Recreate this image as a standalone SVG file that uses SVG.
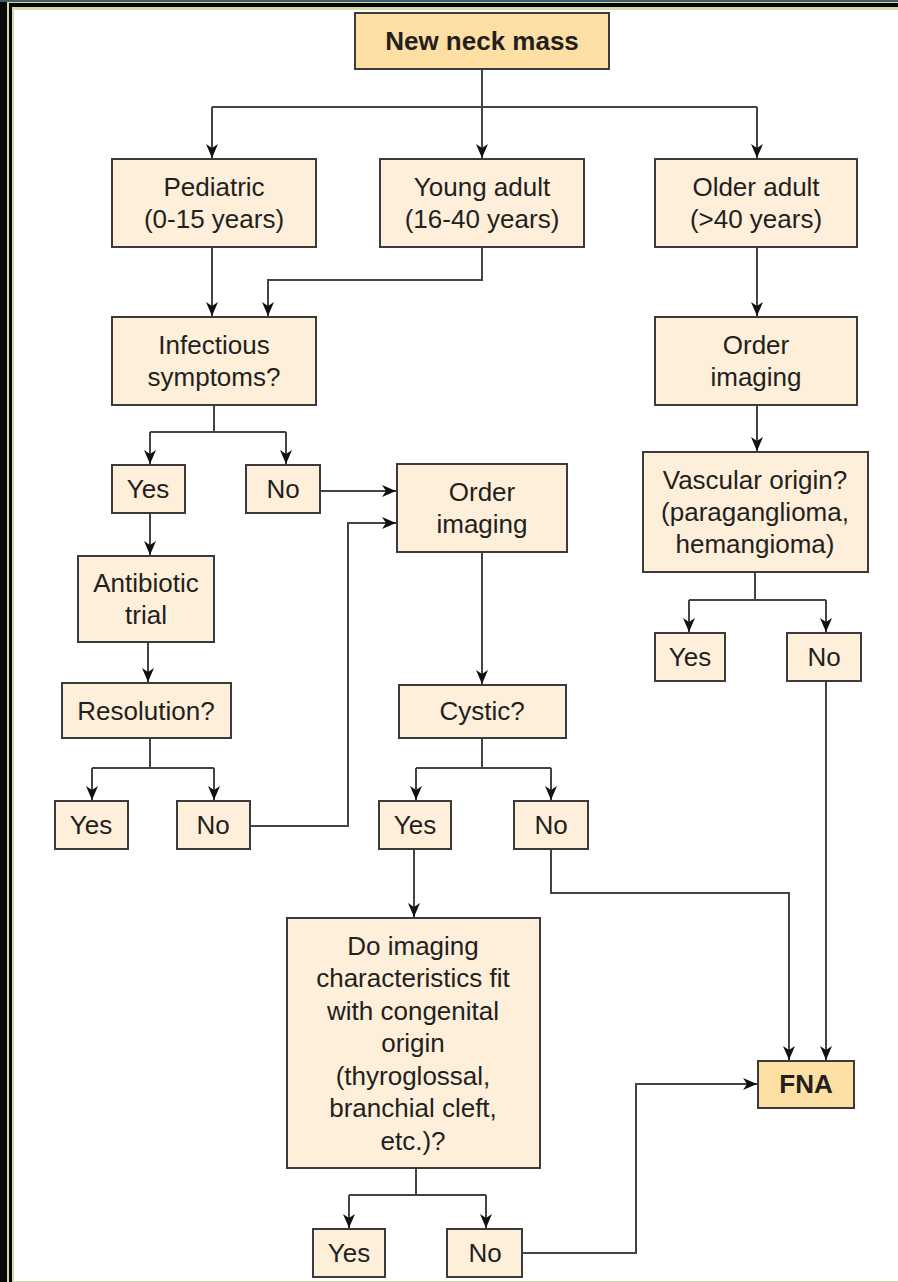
<svg xmlns="http://www.w3.org/2000/svg" width="898" height="1282" viewBox="0 0 898 1282">
<style>
.n{fill:#fdefda;stroke:#3b3b3b;stroke-width:2}
.h{fill:#fddfa4;stroke:#3b3b3b;stroke-width:2}
text{font-family:"Liberation Sans",Arial,sans-serif;font-size:26px;fill:#231f20;text-anchor:middle}
.b{font-weight:bold}
.c{fill:none;stroke:#444;stroke-width:2}
</style>
<defs>
<marker id="a" viewBox="0 0 14 12" markerWidth="14" markerHeight="12" refX="14" refY="6" orient="auto" markerUnits="userSpaceOnUse">
<path d="M0,0 L14,6 L0,12 L4,6 z" fill="#111"/>
</marker>
</defs>
<g id="frame">
<rect x="0" y="0" width="898" height="1282" fill="#080808"/>
<rect x="0" y="0" width="898" height="2" fill="#3d5c63"/>
<rect x="7" y="2" width="891" height="1280" fill="#cfdcaa"/>
<rect x="9" y="3" width="889" height="1279" fill="#050505"/>
<rect x="12" y="7" width="886" height="1275" fill="#cfdcaa"/>
<rect x="14" y="10" width="884" height="1271" fill="#fff"/>
</g>
<g id="connectors">
<path class="c" d="M482,69 V107"/>
<path class="c" d="M212,107 H757"/>
<path class="c" d="M212,107 V158" marker-end="url(#a)"/>
<path class="c" d="M482,107 V158" marker-end="url(#a)"/>
<path class="c" d="M757,107 V158" marker-end="url(#a)"/>
<path class="c" d="M212,247 V316" marker-end="url(#a)"/>
<path class="c" d="M482,247 V280 H268 V316" marker-end="url(#a)"/>
<path class="c" d="M757,247 V316" marker-end="url(#a)"/>
<path class="c" d="M757,405 V451" marker-end="url(#a)"/>
<path class="c" d="M755,572 V600"/>
<path class="c" d="M689,600 H826"/>
<path class="c" d="M689,600 V632" marker-end="url(#a)"/>
<path class="c" d="M826,600 V632" marker-end="url(#a)"/>
<path class="c" d="M826,681 V1060" marker-end="url(#a)"/>
<path class="c" d="M214,405 V432"/>
<path class="c" d="M150,432 H286"/>
<path class="c" d="M150,432 V464" marker-end="url(#a)"/>
<path class="c" d="M286,432 V464" marker-end="url(#a)"/>
<path class="c" d="M320,491 H396" marker-end="url(#a)"/>
<path class="c" d="M150,513 V555" marker-end="url(#a)"/>
<path class="c" d="M148,642 V682" marker-end="url(#a)"/>
<path class="c" d="M150,738 V768"/>
<path class="c" d="M92,768 H214"/>
<path class="c" d="M92,768 V800" marker-end="url(#a)"/>
<path class="c" d="M214,768 V800" marker-end="url(#a)"/>
<path class="c" d="M250,826 H348 V523 H396" marker-end="url(#a)"/>
<path class="c" d="M482,552 V684" marker-end="url(#a)"/>
<path class="c" d="M482,738 V768"/>
<path class="c" d="M416,768 H551"/>
<path class="c" d="M416,768 V800" marker-end="url(#a)"/>
<path class="c" d="M551,768 V800" marker-end="url(#a)"/>
<path class="c" d="M551,849 V893 H789 V1060" marker-end="url(#a)"/>
<path class="c" d="M414,849 V917" marker-end="url(#a)"/>
<path class="c" d="M416,1168 V1195"/>
<path class="c" d="M349,1195 H486"/>
<path class="c" d="M349,1195 V1228" marker-end="url(#a)"/>
<path class="c" d="M486,1195 V1228" marker-end="url(#a)"/>
<path class="c" d="M522,1253 H636 V1084 H757" marker-end="url(#a)"/>
</g>
<g id="n-new"><rect class="h" x="355" y="13" width="254" height="56"/><text class="b" x="482" y="50">New neck mass</text></g>
<g id="n-ped"><rect class="n" x="112" y="159" width="204" height="88"/><text x="214" y="196">Pediatric</text><text x="214" y="228">(0-15 years)</text></g>
<g id="n-young"><rect class="n" x="380" y="159" width="204" height="88"/><text x="482" y="196">Young adult</text><text x="482" y="228">(16-40 years)</text></g>
<g id="n-older"><rect class="n" x="655" y="159" width="202" height="88"/><text x="756" y="196">Older adult</text><text x="756" y="228">(&gt;40 years)</text></g>
<g id="n-inf"><rect class="n" x="112" y="317" width="204" height="88"/><text x="214" y="354">Infectious</text><text x="214" y="386">symptoms?</text></g>
<g id="n-img1"><rect class="n" x="655" y="317" width="202" height="88"/><text x="756" y="354">Order</text><text x="756" y="386">imaging</text></g>
<g id="n-vasc"><rect class="n" x="643" y="452" width="225" height="120"/><text x="755" y="489">Vascular origin?</text><text x="755" y="521">(paraganglioma,</text><text x="755" y="553">hemangioma)</text></g>
<g id="n-vyes"><rect class="n" x="655" y="633" width="70" height="48"/><text x="690" y="666">Yes</text></g>
<g id="n-vno"><rect class="n" x="787" y="633" width="74" height="48"/><text x="824" y="666">No</text></g>
<g id="n-iyes"><rect class="n" x="112" y="465" width="73" height="48"/><text x="148" y="498">Yes</text></g>
<g id="n-ino"><rect class="n" x="246" y="465" width="74" height="48"/><text x="283" y="498">No</text></g>
<g id="n-img2"><rect class="n" x="397" y="464" width="170" height="88"/><text x="482" y="501">Order</text><text x="482" y="533">imaging</text></g>
<g id="n-abx"><rect class="n" x="78" y="556" width="136" height="86"/><text x="146" y="592">Antibiotic</text><text x="146" y="624">trial</text></g>
<g id="n-res"><rect class="n" x="62" y="683" width="169" height="55"/><text x="146" y="720">Resolution?</text></g>
<g id="n-ryes"><rect class="n" x="55" y="801" width="73" height="48"/><text x="91" y="834">Yes</text></g>
<g id="n-rno"><rect class="n" x="177" y="801" width="73" height="48"/><text x="213" y="834">No</text></g>
<g id="n-cyst"><rect class="n" x="399" y="685" width="167" height="53"/><text x="482" y="720">Cystic?</text></g>
<g id="n-cyes"><rect class="n" x="379" y="801" width="72" height="48"/><text x="415" y="834">Yes</text></g>
<g id="n-cno"><rect class="n" x="514" y="801" width="74" height="48"/><text x="551" y="834">No</text></g>
<g id="n-cong"><rect class="n" x="287" y="918" width="253" height="250"/>
<text x="413" y="955">Do imaging</text><text x="413" y="987">characteristics fit</text><text x="413" y="1020">with congenital</text><text x="413" y="1052">origin</text><text x="413" y="1085">(thyroglossal,</text><text x="413" y="1117">branchial cleft,</text><text x="413" y="1150">etc.)?</text></g>
<g id="n-gyes"><rect class="n" x="313" y="1229" width="72" height="48"/><text x="349" y="1262">Yes</text></g>
<g id="n-gno"><rect class="n" x="447" y="1229" width="75" height="48"/><text x="485" y="1262">No</text></g>
<g id="n-fna"><rect class="h" x="758" y="1061" width="96" height="47"/><text class="b" x="806" y="1093">FNA</text></g>
</svg>
